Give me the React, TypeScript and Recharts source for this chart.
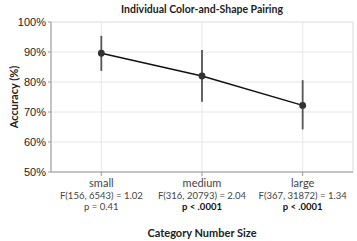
import { ComposedChart, Line, ErrorBar, XAxis, YAxis, CartesianGrid, Label, ReferenceArea } from "recharts";

const categories = ["small", "medium", "large"];
const accuracy = [89.6, 82.0, 72.2];
const errLow = [5.9, 8.6, 8.0];
const errHigh = [5.8, 8.7, 8.4];
const fStats = ["F(156, 6543) = 1.02", "F(316, 20793) = 2.04", "F(367, 31872) = 1.34"];
const pStats = ["p = 0.41", "p < .0001", "p < .0001"];
const pBold = [false, true, true];
const yTicks = [50, 60, 70, 80, 90, 100];

const data = categories.map((c, i) => ({
  name: c,
  acc: accuracy[i],
  err: [errLow[i], errHigh[i]],
  f: fStats[i],
  p: pStats[i],
  bold: pBold[i],
}));

const humanist = "Lato, 'Open Sans', sans-serif";

function CategoryTick(props: any) {
  const { x, y, payload, index } = props;
  const row = data[index] ?? data.find((d) => d.name === payload.value);
  return (
    <g transform={`translate(${x},${y})`}>
      <text x={0} y={9} textAnchor="middle" fontFamily={humanist} fontSize={11} fill="#444">
        {payload.value}
      </text>
      <text x={0} y={20.5} textAnchor="middle" fontFamily={humanist} fontSize={9.5} fill="#444">
        {row.f}
      </text>
      <text x={0} y={32} textAnchor="middle" fontFamily={humanist} fontSize={9.5} fill={row.bold ? "#111" : "#444"} fontWeight={row.bold ? 700 : 400}>
        {row.p}
      </text>
    </g>
  );
}

export default function App() {
  return (
    <div style={{ position: "absolute", left: 0, top: 0, width: 357, height: 241, background: "#fff" }}>
      <div style={{ position: "absolute", left: 51, width: 302, top: 3, textAlign: "center", fontFamily: humanist, fontWeight: 700, fontSize: 10.5, color: "#222" }}>
        Individual Color-and-Shape Pairing
      </div>
      <ComposedChart width={357} height={241} data={data} margin={{ top: 22, right: 4, left: 0, bottom: 4 }}>
        <CartesianGrid stroke="#e6e6e6" />
        <ReferenceArea y1={50} y2={100} fill="none" stroke="#e6e6e6" ifOverflow="visible" />
        <XAxis dataKey="name" scale="band" stroke="#999" tickLine={{ stroke: "#999" }} tickSize={4} height={65} tick={<CategoryTick />} interval={0}>
          <Label value="Category Number Size" position="insideBottom" offset={0} fontFamily={humanist} fontWeight={700} fontSize={11} fill="#222" />
        </XAxis>
        <YAxis
          domain={[50, 100]}
          ticks={yTicks}
          width={51}
          stroke="#999"
          tickSize={3}
          tickFormatter={(v: number) => `${v}%`}
          tick={{ fill: "#222", fontSize: 11, fontFamily: "'Liberation Sans', Arial, sans-serif" }}
        >
          <Label value="Accuracy (%)" angle={-90} position="insideLeft" offset={14} style={{ textAnchor: "middle" }} fontFamily={humanist} fontWeight={700} fontSize={11} fill="#222" />
        </YAxis>
        <Line
          dataKey="acc"
          stroke="#111"
          strokeWidth={1.5}
          dot={{ r: 2.7, fill: "#333", stroke: "#333" }}
          activeDot={false}
          isAnimationActive={false}
        >
          <ErrorBar dataKey="err" width={0} stroke="#555" strokeWidth={1.8} isAnimationActive={false} />
        </Line>
      </ComposedChart>
    </div>
  );
}
